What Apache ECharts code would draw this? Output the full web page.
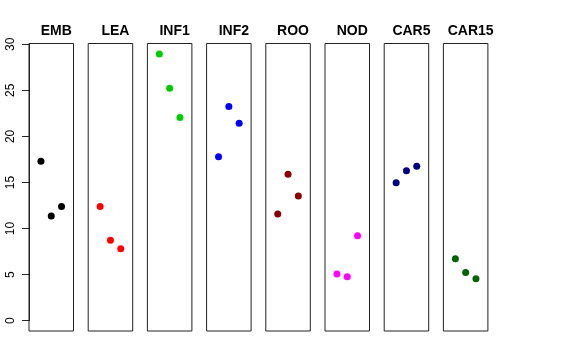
<!DOCTYPE html>
<html>
<head>
<meta charset="utf-8">
<script src="https://cdn.jsdelivr.net/npm/echarts@6/dist/echarts.min.js"></script>
<style>html,body{margin:0;padding:0;background:#fff;}#c{width:576px;height:360px;}</style>
</head>
<body>
<div id="c"></div>
<script>
var categories = ['EMB', 'LEA', 'INF1', 'INF2', 'ROO', 'NOD', 'CAR5', 'CAR15'];
var xPositions = [1, 2, 3];
var emb   = [17.3, 11.35, 12.4];
var lea   = [12.4, 8.72, 7.81];
var inf1  = [28.95, 25.23, 22.05];
var inf2  = [17.78, 23.24, 21.43];
var roo   = [11.57, 15.9, 13.52];
var nod   = [5.06, 4.77, 9.22];
var car5  = [14.96, 16.26, 16.77];
var car15 = [6.72, 5.24, 4.55];
var yTickMin = 0, yTickMax = 30, yTickStep = 5;
var colors = ['#000000', '#FF0000', '#00CD00', '#0000FF', '#8B0000', '#FF00FF', '#000080', '#006400'];

var seriesValues = [emb, lea, inf1, inf2, roo, nod, car5, car15];

(function () {
var chart = echarts.init(document.getElementById('c'), null, {renderer: 'canvas'});
var grids = [], xAxes = [], yAxes = [], series = [], titles = [];
var left0 = 29, pitch = 59.2, w = 44.5, gridTop = 43.5, h = 287.5;
var yMin = -1.12, yMax = 30.08;
for (var i = 0; i < categories.length; i++) {
  var L = left0 + i * pitch;
  grids.push({left: L, top: gridTop, width: w, height: h, show: true, borderColor: '#222', borderWidth: 1});
  xAxes.push({type: 'value', gridIndex: i, min: -0.16, max: 4.16, show: false});
  yAxes.push({type: 'value', gridIndex: i, min: yMin, max: yMax, show: false});
  var data = [];
  for (var j = 0; j < xPositions.length; j++) data.push([xPositions[j], seriesValues[i][j]]);
  series.push({type: 'scatter', xAxisIndex: i, yAxisIndex: i, data: data, symbol: 'circle', symbolSize: 7, itemStyle: {color: colors[i], opacity: 1}});
  titles.push({text: categories[i], left: L + w / 2, top: 19, textAlign: 'center', textStyle: {fontSize: 14, fontWeight: 'bold', color: '#000', fontFamily: 'Liberation Sans'}});
}
var scale = h / (yMax - yMin);
var axTop = gridTop + (yMax - yTickMax) * scale;
var axH = (yTickMax - yTickMin) * scale;
var gi = grids.length;
grids.push({left: left0, top: axTop, width: w, height: axH, show: false});
xAxes.push({type: 'value', gridIndex: gi, min: 0, max: 1, show: false});
yAxes.push({
  type: 'value', gridIndex: gi, min: yTickMin, max: yTickMax, interval: yTickStep,
  splitLine: {show: false},
  axisLine: {show: true, lineStyle: {color: '#222', width: 1}},
  axisTick: {show: true, length: 7, lineStyle: {color: '#222'}},
  axisLabel: {rotate: 90, margin: 12, fontSize: 12, color: '#000', fontFamily: 'Liberation Sans'}
});
chart.setOption({
  animation: false,
  backgroundColor: '#fff',
  title: titles,
  grid: grids,
  xAxis: xAxes,
  yAxis: yAxes,
  series: series
});
})();
</script>
</body>
</html>
